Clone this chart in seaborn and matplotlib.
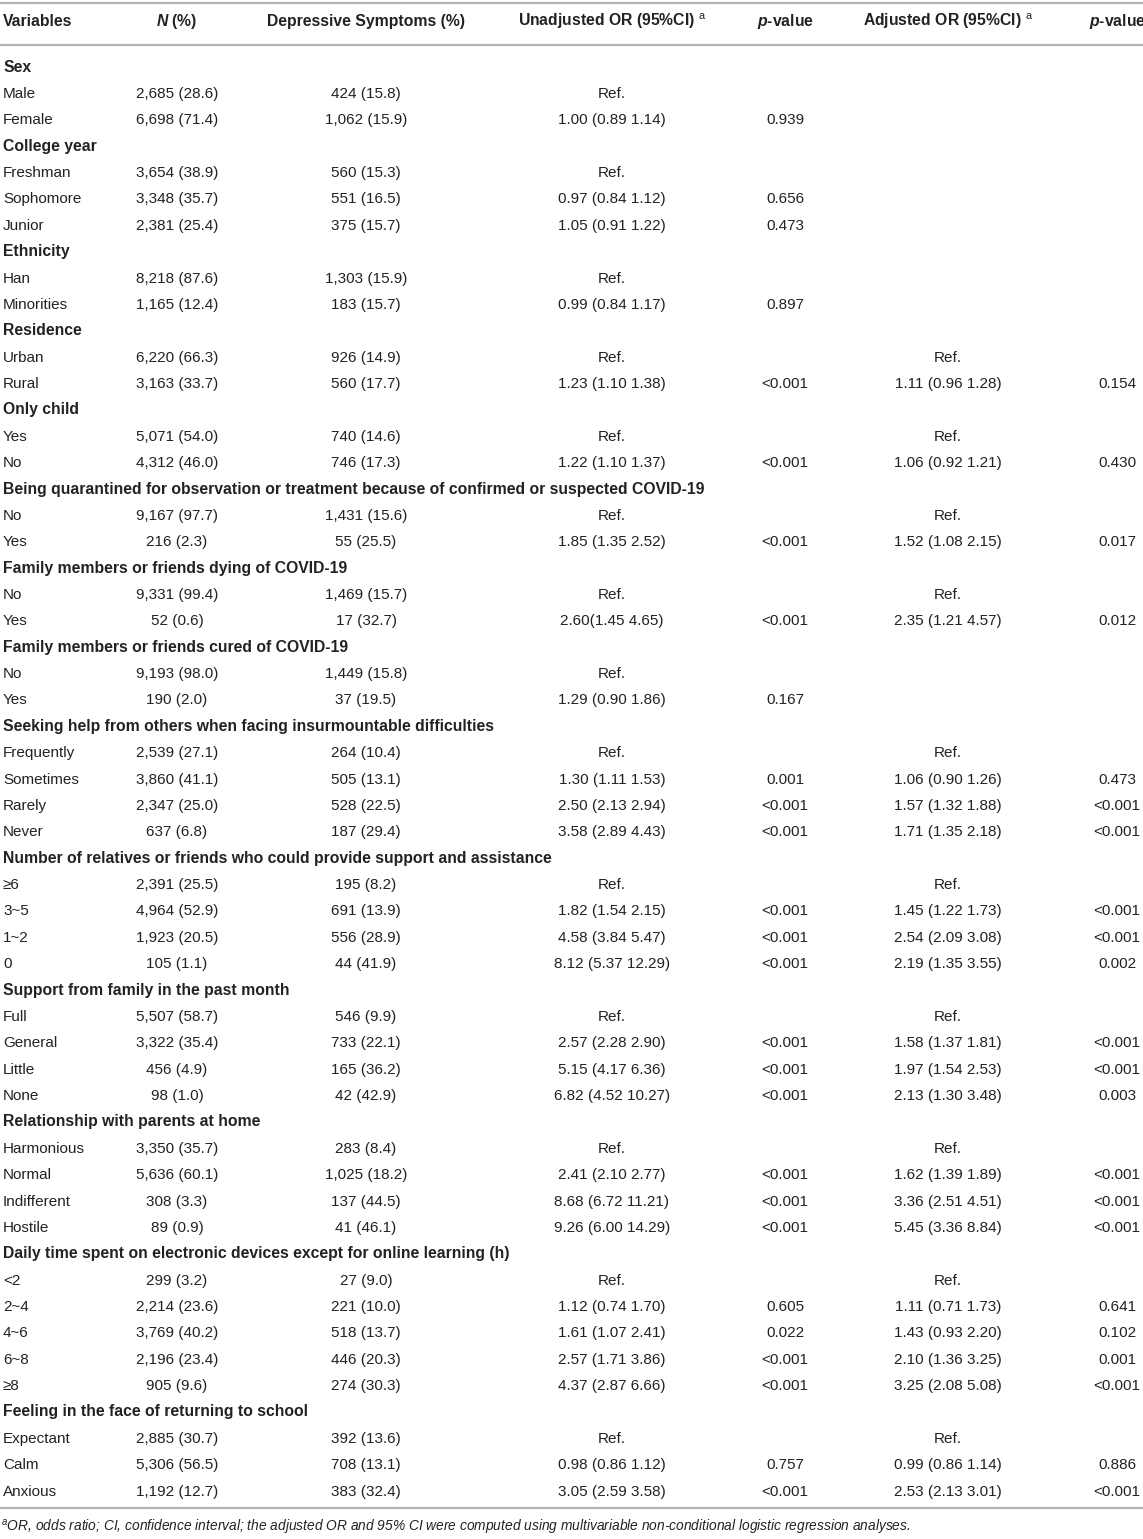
import matplotlib
matplotlib.use("Agg")
import matplotlib.pyplot as plt
import seaborn as sns

"""Table data"""
sections = [
    ("Sex", 2),
    ("College year", 3),
    ("Ethnicity", 2),
    ("Residence", 2),
    ("Only child", 2),
    ("Being quarantined for observation or treatment because of confirmed or suspected COVID-19", 2),
    ("Family members or friends dying of COVID-19", 2),
    ("Family members or friends cured of COVID-19", 2),
    ("Seeking help from others when facing insurmountable difficulties", 4),
    ("Number of relatives or friends who could provide support and assistance", 4),
    ("Support from family in the past month", 4),
    ("Relationship with parents at home", 4),
    ("Daily time spent on electronic devices except for online learning (h)", 5),
    ("Feeling in the face of returning to school", 3),
]

levels = ["Male", "Female",
          "Freshman", "Sophomore", "Junior",
          "Han", "Minorities",
          "Urban", "Rural",
          "Yes", "No",
          "No", "Yes",
          "No", "Yes",
          "No", "Yes",
          "Frequently", "Sometimes", "Rarely", "Never",
          "≥6", "3~5", "1~2", "0",
          "Full", "General", "Little", "None",
          "Harmonious", "Normal", "Indifferent", "Hostile",
          "<2", "2~4", "4~6", "6~8", "≥8",
          "Expectant", "Calm", "Anxious"]

n_pct = ["2,685 (28.6)", "6,698 (71.4)",
         "3,654 (38.9)", "3,348 (35.7)", "2,381 (25.4)",
         "8,218 (87.6)", "1,165 (12.4)",
         "6,220 (66.3)", "3,163 (33.7)",
         "5,071 (54.0)", "4,312 (46.0)",
         "9,167 (97.7)", "216 (2.3)",
         "9,331 (99.4)", "52 (0.6)",
         "9,193 (98.0)", "190 (2.0)",
         "2,539 (27.1)", "3,860 (41.1)", "2,347 (25.0)", "637 (6.8)",
         "2,391 (25.5)", "4,964 (52.9)", "1,923 (20.5)", "105 (1.1)",
         "5,507 (58.7)", "3,322 (35.4)", "456 (4.9)", "98 (1.0)",
         "3,350 (35.7)", "5,636 (60.1)", "308 (3.3)", "89 (0.9)",
         "299 (3.2)", "2,214 (23.6)", "3,769 (40.2)", "2,196 (23.4)", "905 (9.6)",
         "2,885 (30.7)", "5,306 (56.5)", "1,192 (12.7)"]

depressive = ["424 (15.8)", "1,062 (15.9)",
              "560 (15.3)", "551 (16.5)", "375 (15.7)",
              "1,303 (15.9)", "183 (15.7)",
              "926 (14.9)", "560 (17.7)",
              "740 (14.6)", "746 (17.3)",
              "1,431 (15.6)", "55 (25.5)",
              "1,469 (15.7)", "17 (32.7)",
              "1,449 (15.8)", "37 (19.5)",
              "264 (10.4)", "505 (13.1)", "528 (22.5)", "187 (29.4)",
              "195 (8.2)", "691 (13.9)", "556 (28.9)", "44 (41.9)",
              "546 (9.9)", "733 (22.1)", "165 (36.2)", "42 (42.9)",
              "283 (8.4)", "1,025 (18.2)", "137 (44.5)", "41 (46.1)",
              "27 (9.0)", "221 (10.0)", "518 (13.7)", "446 (20.3)", "274 (30.3)",
              "392 (13.6)", "708 (13.1)", "383 (32.4)"]

unadj_or = ["Ref.", "1.00 (0.89 1.14)",
            "Ref.", "0.97 (0.84 1.12)", "1.05 (0.91 1.22)",
            "Ref.", "0.99 (0.84 1.17)",
            "Ref.", "1.23 (1.10 1.38)",
            "Ref.", "1.22 (1.10 1.37)",
            "Ref.", "1.85 (1.35 2.52)",
            "Ref.", "2.60(1.45 4.65)",
            "Ref.", "1.29 (0.90 1.86)",
            "Ref.", "1.30 (1.11 1.53)", "2.50 (2.13 2.94)", "3.58 (2.89 4.43)",
            "Ref.", "1.82 (1.54 2.15)", "4.58 (3.84 5.47)", "8.12 (5.37 12.29)",
            "Ref.", "2.57 (2.28 2.90)", "5.15 (4.17 6.36)", "6.82 (4.52 10.27)",
            "Ref.", "2.41 (2.10 2.77)", "8.68 (6.72 11.21)", "9.26 (6.00 14.29)",
            "Ref.", "1.12 (0.74 1.70)", "1.61 (1.07 2.41)", "2.57 (1.71 3.86)", "4.37 (2.87 6.66)",
            "Ref.", "0.98 (0.86 1.12)", "3.05 (2.59 3.58)"]

unadj_p = ["", "0.939",
           "", "0.656", "0.473",
           "", "0.897",
           "", "<0.001",
           "", "<0.001",
           "", "<0.001",
           "", "<0.001",
           "", "0.167",
           "", "0.001", "<0.001", "<0.001",
           "", "<0.001", "<0.001", "<0.001",
           "", "<0.001", "<0.001", "<0.001",
           "", "<0.001", "<0.001", "<0.001",
           "", "0.605", "0.022", "<0.001", "<0.001",
           "", "0.757", "<0.001"]

adj_or = ["", "",
          "", "", "",
          "", "",
          "Ref.", "1.11 (0.96 1.28)",
          "Ref.", "1.06 (0.92 1.21)",
          "Ref.", "1.52 (1.08 2.15)",
          "Ref.", "2.35 (1.21 4.57)",
          "", "",
          "Ref.", "1.06 (0.90 1.26)", "1.57 (1.32 1.88)", "1.71 (1.35 2.18)",
          "Ref.", "1.45 (1.22 1.73)", "2.54 (2.09 3.08)", "2.19 (1.35 3.55)",
          "Ref.", "1.58 (1.37 1.81)", "1.97 (1.54 2.53)", "2.13 (1.30 3.48)",
          "Ref.", "1.62 (1.39 1.89)", "3.36 (2.51 4.51)", "5.45 (3.36 8.84)",
          "Ref.", "1.11 (0.71 1.73)", "1.43 (0.93 2.20)", "2.10 (1.36 3.25)", "3.25 (2.08 5.08)",
          "Ref.", "0.99 (0.86 1.14)", "2.53 (2.13 3.01)"]

adj_p = ["", "",
         "", "", "",
         "", "",
         "", "0.154",
         "", "0.430",
         "", "0.017",
         "", "0.012",
         "", "",
         "", "0.473", "<0.001", "<0.001",
         "", "<0.001", "<0.001", "0.002",
         "", "<0.001", "<0.001", "0.003",
         "", "<0.001", "<0.001", "<0.001",
         "", "0.641", "0.102", "0.001", "<0.001",
         "", "0.886", "<0.001"]

headers = ["Variables", "$N$ (%)", "Depressive Symptoms (%)",
           r"Unadjusted OR (95%CI) $^{\mathrm{a}}$", "$p$-value",
           r"Adjusted OR (95%CI) $^{\mathrm{a}}$", "$p$-value"]

footnote = (r"$^{\mathsf{a}}$OR, odds ratio; CI, confidence interval; the adjusted OR and 95% CI "
            "were computed using multivariable non-conditional logistic regression analyses.")

"""Plot setup"""
sns.set_style("white")
plt.rcParams.update({
    "font.family": ["Liberation Sans", "DejaVu Sans"],
    "mathtext.fontset": "custom",
    "mathtext.it": "Liberation Sans:italic:bold",
    "mathtext.rm": "Liberation Sans",
    "mathtext.sf": "Liberation Sans:italic",
})

W, H = 1143, 1539
fig = plt.figure(figsize=(W / 100, H / 100), dpi=100)
ax = fig.add_axes([0, 0, 1, 1])
ax.set_xlim(0, W)
ax.set_ylim(H, 0)
ax.axis("off")

text_color = "#222222"
line_color = "#b4b4b4"
fs = 11.0       # body text
fs_bold = 11.3  # headers and section titles
base = 5.6      # baseline offset below row centre (px)

# column anchors (x, alignment)
col_x = [3, 177, 366, 612, 785, 948, 1117]
col_ha = ["left", "center", "center", "center", "center", "center", "center"]

# rules
for yl in (3, 45, 1508):
    ax.plot([0, W], [yl, yl], color=line_color, lw=1.6, solid_capstyle="butt")

# header
for x, ha, h in zip(col_x, col_ha, headers):
    ax.text(x, 20 + base, h, ha=ha, va="baseline", fontsize=fs_bold,
            fontweight="bold", color=text_color)

# body
y0, dy = 66, 26.37
row = 0
k = 0
for title, n in sections:
    ax.text(3, y0 + row * dy + base, title, ha="left", va="baseline", fontsize=fs_bold,
            fontweight="bold", color=text_color)
    row += 1
    for _ in range(n):
        y = y0 + row * dy + base
        cells = [levels[k], n_pct[k], depressive[k], unadj_or[k], unadj_p[k], adj_or[k], adj_p[k]]
        for x, ha, c in zip(col_x, col_ha, cells):
            if c:
                ax.text(x, y, c, ha=ha, va="baseline", fontsize=fs, color=text_color)
        row += 1
        k += 1

ax.text(1, 1527 + 4.5, footnote, ha="left", va="baseline", fontsize=9.9, style="italic",
        color=text_color)

plt.savefig("out.png", dpi=100)
